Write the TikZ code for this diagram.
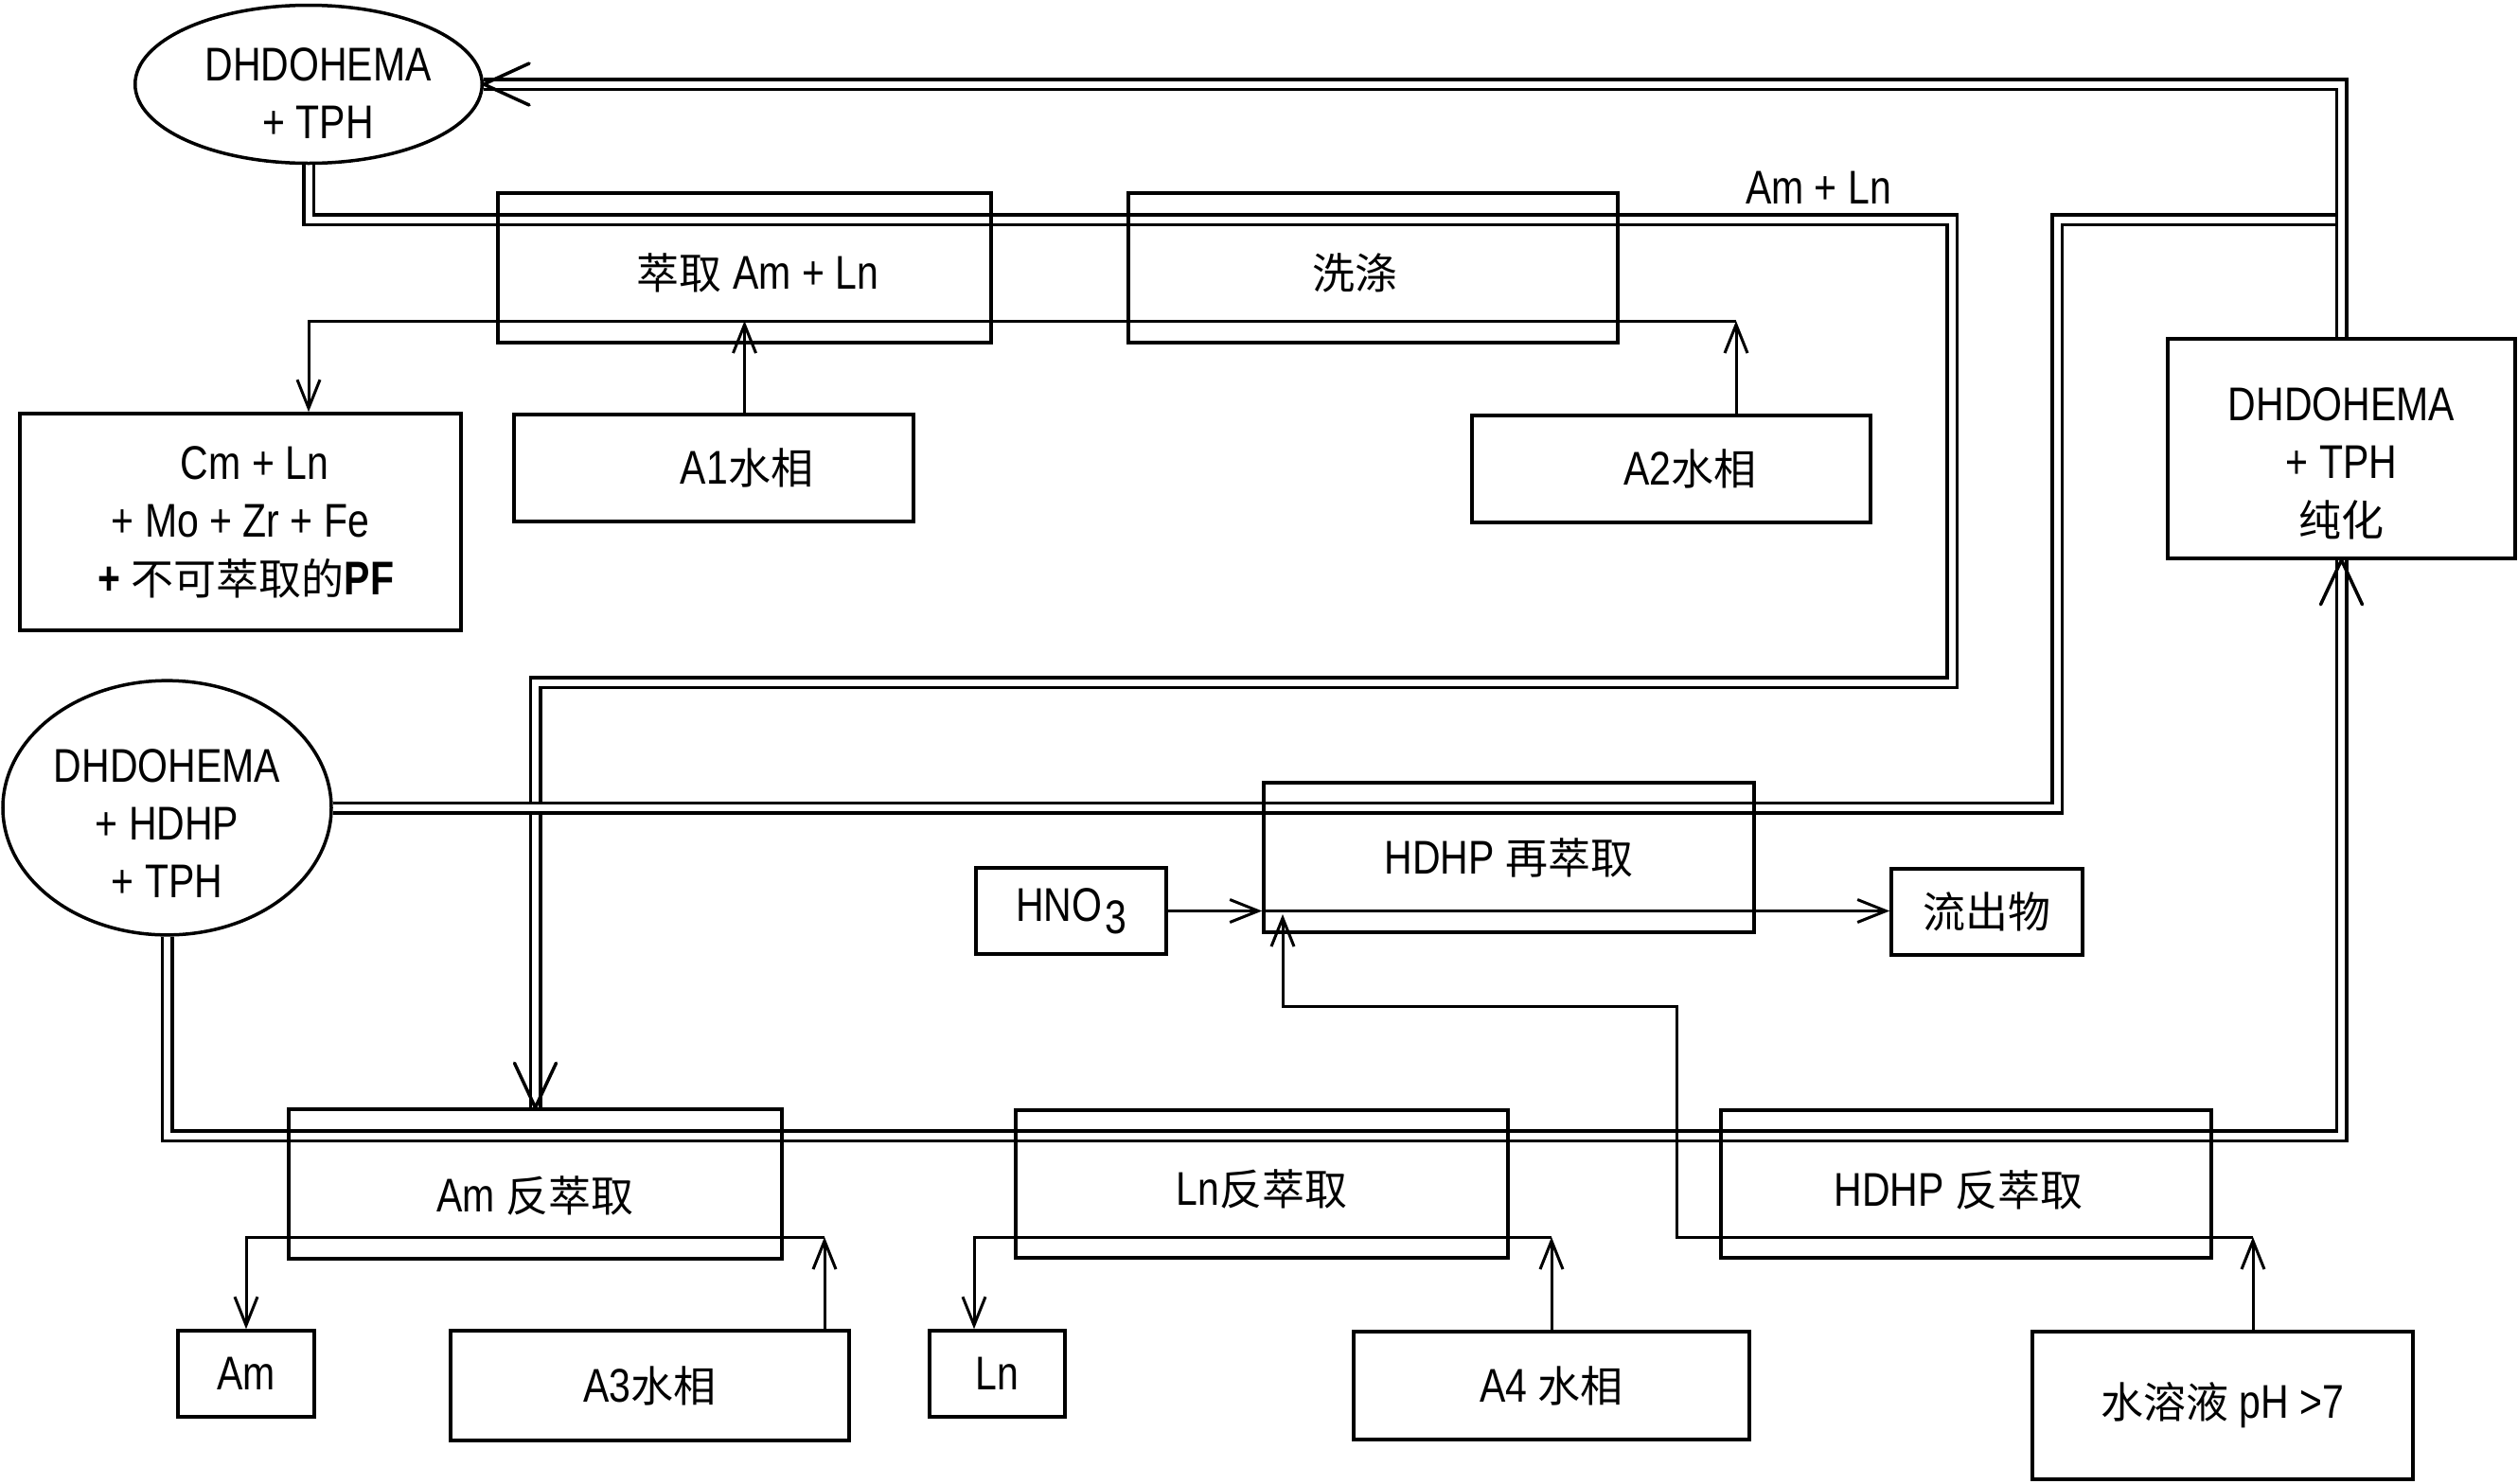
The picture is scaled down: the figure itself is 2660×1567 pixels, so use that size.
\documentclass[tikz,border=0pt]{standalone}
\usepackage{fontspec}
\setmainfont{Liberation Sans}[FakeStretch=0.82]
\newfontfamily\cjk{Noto Sans CJK SC}[Scale=0.9]
\newcommand\zhtxt[1]{{\cjk #1}}
\newcommand\topstrut[1]{\rule{0pt}{#1}}
\usetikzlibrary{shapes.geometric,arrows.meta,calc,backgrounds}
\begin{document}
\begin{tikzpicture}[x=1pt,y=-1pt,
  font=\fontsize{50}{61}\selectfont,
  boxst/.style={draw,line width=3.5pt,inner sep=0pt,align=center},
  ovalst/.style={draw,ellipse,line width=3.5pt,inner sep=0pt,align=center},
  flowarr/.style={line width=3pt,-{Straight Barb[length=30pt,width=24pt]}},
  dblln/.style={line width=3.5pt,double=white,double distance=7pt},
  dblhead/.style={line width=3.5pt,line join=round,line cap=round}]
\useasboundingbox (0,0) rectangle (2660,1567);

% nodes
\node[ovalst,minimum width=348pt,minimum height=167pt] (e1) at (326,89) {\topstrut{54pt}\hspace*{20pt}DHDOHEMA\\\hspace*{20pt}+ TPH};
\node[boxst,minimum width=521pt,minimum height=158pt] (ext) at (786.5,283) {\topstrut{48pt}\hspace*{28pt}\zhtxt{萃取} Am + Ln};
\node[boxst,minimum width=517pt,minimum height=158pt] (wash) at (1450.5,283) {\topstrut{48pt}\zhtxt{洗涤}\hspace*{38pt}};
\node[boxst,minimum width=367pt,minimum height=232pt] (purif) at (2473.5,474) {\topstrut{66pt}DHDOHEMA\\+ TPH\\\zhtxt{纯化}};
\node[boxst,minimum width=466pt,minimum height=229pt] (cm) at (254,551.5) {\hspace*{30pt}Cm + Ln\\+ Mo + Zr + Fe\\\hspace*{12pt}\textbf{+} \zhtxt{不可萃取的}\textbf{PF}};
\node[boxst,minimum width=422pt,minimum height=113pt] (a1) at (754,494.5) {\hspace*{70pt}A1\zhtxt{水相}};
\node[boxst,minimum width=421pt,minimum height=113pt] (a2) at (1765.5,495.5) {\hspace*{40pt}A2\zhtxt{水相}};
\node[ovalst,minimum width=347pt,minimum height=247pt] (e2) at (176.5,853.5) {\topstrut{68pt}DHDOHEMA\\+ HDHP\\+ TPH};
\node[boxst,minimum width=518pt,minimum height=158pt] (reext) at (1594,906) {HDHP \zhtxt{再萃取}};
\node[boxst,minimum width=201pt,minimum height=91pt] (hno3) at (1131.5,962.5) {HNO\kern3pt\raisebox{-13pt}{3}};
\node[boxst,minimum width=202pt,minimum height=91pt] (eff) at (2099,963.5) {\zhtxt{流出物}};
\node[boxst,minimum width=521pt,minimum height=158pt] (amb) at (565.5,1251) {\topstrut{62pt}Am \zhtxt{反萃取}};
\node[boxst,minimum width=520pt,minimum height=156pt] (lnb) at (1333,1251) {\topstrut{48pt}Ln\zhtxt{反萃取}};
\node[boxst,minimum width=518pt,minimum height=156pt] (hdb) at (2077,1251) {\topstrut{50pt}HDHP \zhtxt{反萃取}\hspace*{16pt}};
\node[boxst,minimum width=144pt,minimum height=91pt] (am) at (260,1451.5) {Am};
\node[boxst,minimum width=421pt,minimum height=116pt] (a3) at (686.5,1464) {A3\zhtxt{水相}};
\node[boxst,minimum width=143pt,minimum height=91pt] (ln) at (1053.5,1451.5) {Ln};
\node[boxst,minimum width=418pt,minimum height=114pt] (a4) at (1639,1464) {A4 \zhtxt{水相}};
\node[boxst,minimum width=402pt,minimum height=156pt] (aq) at (2348,1485) {\zhtxt{水溶液} pH >7};
\node (amln) at (1921,198) {Am + Ln};

% helper coordinates
\coordinate (c1) at (2062,232);
\coordinate (c2) at (2062,721);
\coordinate (c3) at (2173,232);
\coordinate (c3b) at (2470,232);
\coordinate (c5) at (2473.5,1200);
\coordinate (r0) at (326,339);
\coordinate (r1) at (1834,339);
\coordinate (h1) at (2380,1307);
\coordinate (h2) at (1771,1063);
\coordinate (h3) at (1355,966);
\coordinate (m1) at (871,1307);
\coordinate (n1) at (1638,1307);
\coordinate (n0) at (1029,1307);

% double (organic) streams
\begin{scope}[on background layer]
\draw[dblln] (e1.south) |- (c1) -- (c2) -| (amb.north);
\draw[dblln] (e2.east) -| (c3) -- (c3b);
\draw[dblln] (purif.north) |- (e1.east);
\draw[dblln] (e2.south) |- (c5) -- (purif.south);
\end{scope}
\draw[dblhead] ($(e1.east)+(48,-22)$) -- (e1.east) -- ($(e1.east)+(48,22)$);
\draw[dblhead] ($(amb.north)+(-22,-47)$) -- (amb.north) -- ($(amb.north)+(22,-47)$);
\draw[dblhead] ($(purif.south)+(-22,47)$) -- (purif.south) -- ($(purif.south)+(22,47)$);

% single (aqueous) streams
\draw[flowarr] (a1.north -| ext.south) -- (ext.south |- r0);
\draw[flowarr] (a2.north -| r1) -- (r1);
\draw[flowarr] (r1) -- (r0) -- (cm.north -| r0);
\draw[flowarr] (hno3.east) -- (reext.west |- hno3.east);
\draw[flowarr] (reext.west |- hno3.east) -- (eff.west |- hno3.east);
\draw[flowarr] (aq.north -| h1) -- (h1);
\draw[flowarr] (h1) -| (h2) -| (h3);
\draw[flowarr] (a3.north -| m1) -- (m1);
\draw[flowarr] (m1) -| (am.north);
\draw[flowarr] (a4.north) -- (a4.north |- n1);
\draw[flowarr] (a4.north |- n1) -| (n0 |- ln.north);
\end{tikzpicture}
\end{document}
